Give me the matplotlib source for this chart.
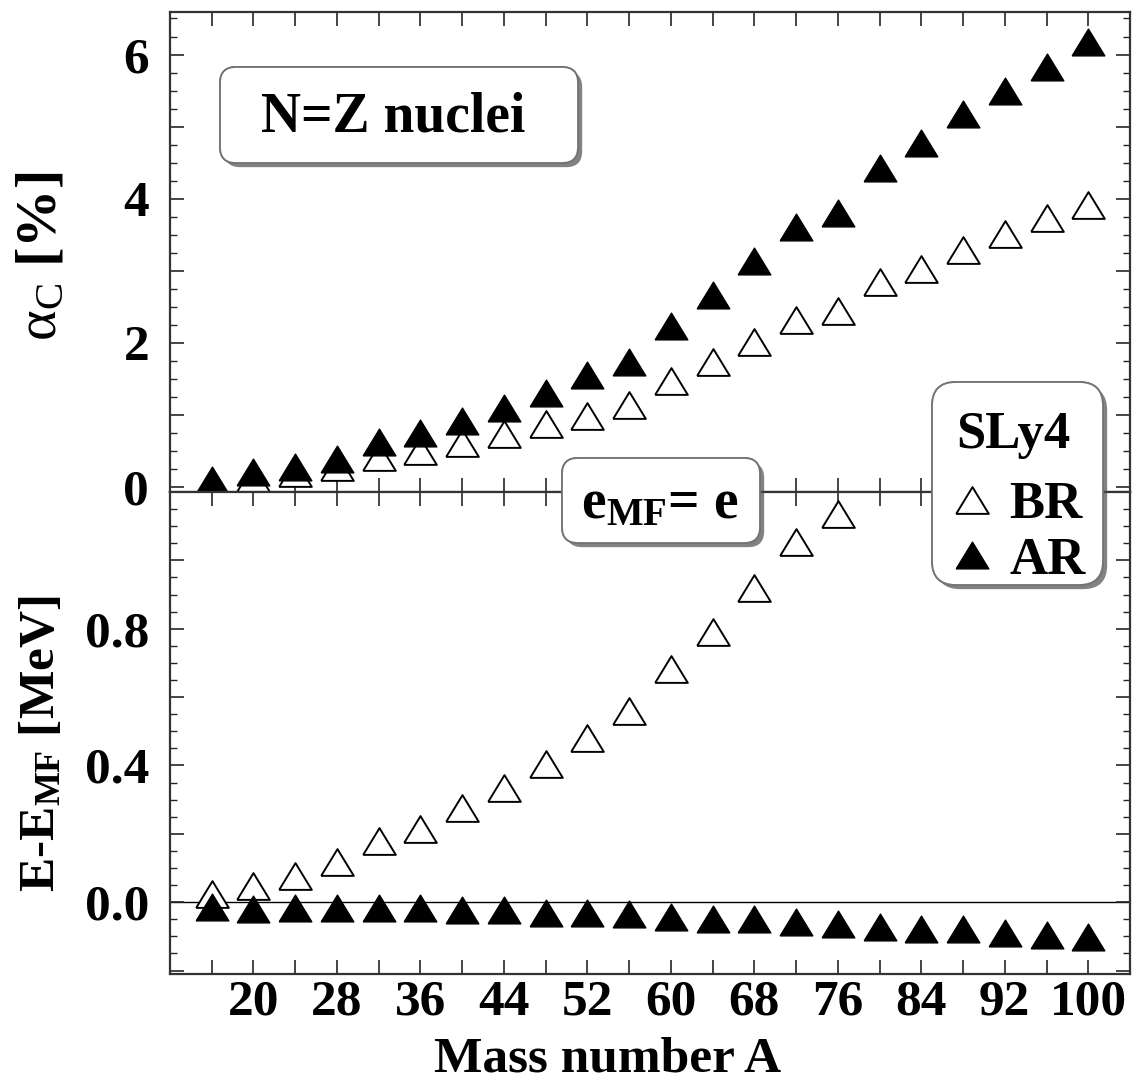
import matplotlib
matplotlib.use("Agg")
import matplotlib.pyplot as plt
from matplotlib.patches import FancyBboxPatch
from matplotlib.ticker import MultipleLocator
from matplotlib import patheffects

plt.rcParams['font.family'] = 'Liberation Serif'
plt.rcParams['font.weight'] = 'bold'
plt.rcParams['axes.labelweight'] = 'bold'
plt.rcParams['mathtext.fontset'] = 'custom'
plt.rcParams['mathtext.rm'] = 'Liberation Serif:normal'
plt.rcParams['mathtext.it'] = 'Liberation Serif:italic:normal'
plt.rcParams['mathtext.bf'] = 'Liberation Serif:bold'

# mass numbers of the N=Z nuclei
mass = [16, 20, 24, 28, 32, 36, 40, 44, 48, 52, 56, 60,
        64, 68, 72, 76, 80, 84, 88, 92, 96, 100]

# isospin mixing alpha_C [%], before (BR) and after (AR) restoration
alpha_br = [0.05, 0.12, 0.20, 0.27, 0.42, 0.50, 0.61, 0.73, 0.87, 0.98, 1.14,
            1.47, 1.73, 2.01, 2.31, 2.44, 2.84, 3.03, 3.29, 3.51, 3.73, 3.91]
alpha_ar = [0.09, 0.21, 0.28, 0.39, 0.62, 0.75, 0.91, 1.10, 1.31, 1.55, 1.73,
            2.24, 2.66, 3.13, 3.61, 3.80, 4.43, 4.77, 5.17, 5.50, 5.83, 6.17]

# E - E_MF [MeV]; BR points above A=76 are off the scale
mass_br_e = [16, 20, 24, 28, 32, 36, 40, 44, 48, 52, 56, 60, 64, 68, 72, 76]
ecorr_br = [0.025, 0.046, 0.078, 0.118, 0.180, 0.215, 0.277, 0.333, 0.403,
            0.479, 0.558, 0.683, 0.789, 0.920, 1.055, 1.136]
ecorr_ar = [-0.015, -0.019, -0.017, -0.017, -0.017, -0.017, -0.023, -0.023,
            -0.033, -0.033, -0.034, -0.042, -0.050, -0.049, -0.057, -0.063,
            -0.072, -0.079, -0.079, -0.089, -0.096, -0.103]

xtick_labels = ['' if (a - 20) % 8 else str(a) for a in mass]

W, H = 1134, 1084
fig = plt.figure(figsize=(W / 100, H / 100), dpi=100)
left, right, top, mid, bottom = 170, 1130, 12, 492, 974
ax1 = fig.add_axes([left / W, 1 - mid / H, (right - left) / W, (mid - top) / H])
ax2 = fig.add_axes([left / W, 1 - bottom / H, (right - left) / W, (bottom - mid) / H])

tri = [(-1.22, -1.0), (1.22, -1.0), (0.0, 1.0), (-1.22, -1.0)]
open_kw = dict(ls='none', marker=tri, ms=23.5, mfc='white', mec='black', mew=1.4)
fill_kw = dict(ls='none', marker=tri, ms=23.5, mfc='black', mec='black', mew=1.0)

h_br, = ax1.plot(mass, alpha_br, zorder=3, **open_kw)
h_ar, = ax1.plot(mass, alpha_ar, zorder=4, **fill_kw)
ax2.plot(mass_br_e, ecorr_br, zorder=3, **open_kw)
ax2.plot(mass, ecorr_ar, zorder=4, **fill_kw)
ax2.axhline(0, color='black', lw=1.0, zorder=1)

ax1.set_xlim(12, 104)
ax2.set_xlim(12, 104)
ax1.set_ylim(-0.07, 6.59)
ax2.set_ylim(-0.21, 1.2)

for ax in (ax1, ax2):
    for sp in ax.spines.values():
        sp.set_linewidth(1.6)
        sp.set_color('0.2')
    ax.set_xticks(mass)
    ax.tick_params(which='both', direction='in', top=True, right=True,
                   color='0.15', labelsize=37)
    ax.tick_params(which='major', length=10, width=1.2)
    ax.tick_params(which='minor', length=5, width=1.0)
    ax.tick_params(axis='y', pad=15)
    ax.tick_params(axis='x', pad=4)

ax1.set_xticklabels([])
ax2.set_xticklabels(xtick_labels)

ax1.set_yticks([0, 1, 2, 3, 4, 5, 6], labels=['0', '', '2', '', '4', '', '6'])
ax1.yaxis.set_minor_locator(MultipleLocator(0.25))
ax2.set_yticks([-0.2, 0.0, 0.2, 0.4, 0.6, 0.8, 1.0, 1.2],
               labels=['', '0.0', '', '0.4', '', '0.8', '', ''])
ax2.yaxis.set_minor_locator(MultipleLocator(0.05))

ax1.set_ylabel(r'$\mathrm{\alpha_C}$ [%]', fontsize=42, va='center')
ax1.yaxis.set_label_coords(-0.133, 0.49)
ax2.set_ylabel(r'E-E$_{\mathbf{MF}}$ [MeV]', fontsize=37, va='center')
ax2.yaxis.set_label_coords(-0.133, 0.477)
ax2.set_xlabel('Mass number A', fontsize=37, va='center')
ax2.xaxis.set_label_coords(0.456, -0.178)


def rounded_box(x0, y0, x1, y1, r):
    # box given in pixels from the top-left corner
    box = FancyBboxPatch((x0 / 100, (H - y1) / 100), (x1 - x0) / 100, (y1 - y0) / 100,
                         boxstyle=f'round,pad=0,rounding_size={r / 100}',
                         transform=fig.dpi_scale_trans, fc='white', ec='0.45',
                         lw=1.3, zorder=20)
    box.set_path_effects([patheffects.withSimplePatchShadow(offset=(3, -3),
                                                            shadow_rgbFace='0.3',
                                                            alpha=0.7),
                          patheffects.Normal()])
    fig.add_artist(box)


rounded_box(220, 67, 578, 163, 16)
fig.text(393 / W, 1 - 131 / H, 'N=Z nuclei', ha='center', va='baseline',
         fontsize=40, zorder=21)

rounded_box(562, 458, 760, 543, 16)
fig.text(660 / W, 1 - 518 / H, r'e$_{\mathbf{MF}}$= e', ha='center', va='baseline',
         fontsize=40, zorder=21)

rounded_box(932, 382, 1103, 585, 24)
fig.text(1013 / W, 1 - 448 / H, 'SLy4', ha='center', va='baseline',
         fontsize=38, zorder=21)
leg = fig.legend(handles=[h_br, h_ar], labels=['BR', 'AR'],
                 loc='upper left', bbox_to_anchor=(951 / W, 1 - 481 / H),
                 frameon=False, prop={'size': 38, 'weight': 'bold'},
                 handlelength=0.8, handletextpad=0.3, labelspacing=0.15,
                 borderpad=0, borderaxespad=0)
leg.set_zorder(22)

fig.savefig('out.png', dpi=100)
